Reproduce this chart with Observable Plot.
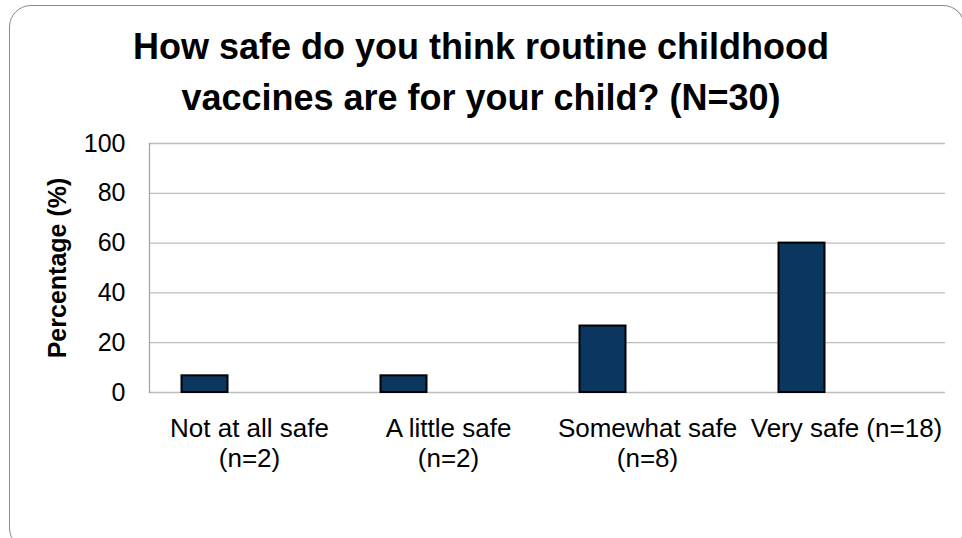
<!DOCTYPE html>
<html>
<head>
<meta charset="utf-8">
<script src="https://cdn.jsdelivr.net/npm/d3@7"></script>
<script src="https://cdn.jsdelivr.net/npm/@observablehq/plot@0.6"></script>
<style>
  html, body { margin: 0; padding: 0; background: #fff; }
  #wrap { position: relative; width: 962px; height: 538px; overflow: hidden; font-family: "Liberation Sans", Arial, sans-serif; }
  #border { position: absolute; left: 9px; top: 5px; width: 956px; height: 545px; border: 1.5px solid #8a8a8a; border-radius: 22px; box-shadow: 1px 1px 2px rgba(0,0,0,0.25); box-sizing: border-box; }
  #title { position: relative; height: 130px; box-sizing: border-box; padding-top: 21px; text-align: center; font-size: 36px; font-weight: bold; line-height: 51px; color: #000; }
  #title div { padding-left: 0; }
  #chart { position: relative; }
  g[aria-label="y-axis label"] text { font-weight: bold; }
</style>
</head>
<body>
<div id="wrap">
  <div id="border"></div>
  <div id="title"></div>
  <div id="chart"></div>
</div>
<script>
const titleLines = ["How safe do you think routine childhood", "vaccines are for your child? (N=30)"];
const categories = ["Not at all safe\n(n=2)", "A little safe\n(n=2)", "Somewhat safe\n(n=8)", "Very safe (n=18)"];
const percentages = [6.7, 6.7, 26.7, 60.0];
const yTicks = [0, 20, 40, 60, 80, 100];
const yLabel = "Percentage (%)";

const data = categories.map((c, i) => ({category: c, pct: percentages[i]}));

const titleEl = document.getElementById("title");
titleLines.forEach(t => { const d = document.createElement("div"); d.textContent = t; titleEl.appendChild(d); });

const chart = Plot.plot({
  width: 962,
  height: 408,
  marginTop: 13,
  marginBottom: 146,
  marginLeft: 149,
  marginRight: 17,
  style: {fontFamily: "'Liberation Sans', Arial, sans-serif", fontSize: "25px", background: "transparent", color: "#000", overflow: "visible"},
  x: {domain: categories, paddingInner: 0.77, paddingOuter: 0.385},
  y: {domain: [0, 100]},
  marks: [
    Plot.gridY(yTicks, {stroke: "#bdbdbd", strokeOpacity: 1, strokeWidth: 1.3}),
    Plot.frame({anchor: "left", stroke: "#a6a6a6", strokeWidth: 1.3}),
    Plot.barY(data, {x: "category", y: "pct", fill: "#0b3660", stroke: "#000", strokeWidth: 2, dx: -44.5}),
    Plot.axisY(yTicks, {tickSize: 0, tickPadding: 24, fontSize: 25, label: yLabel, labelAnchor: "center", labelArrow: "none", labelOffset: 101}),
    Plot.axisX({tickSize: 0, tickPadding: 23, fontSize: 26, lineHeight: 1.15, label: null})
  ]
});
document.getElementById("chart").appendChild(chart);
</script>
</body>
</html>
